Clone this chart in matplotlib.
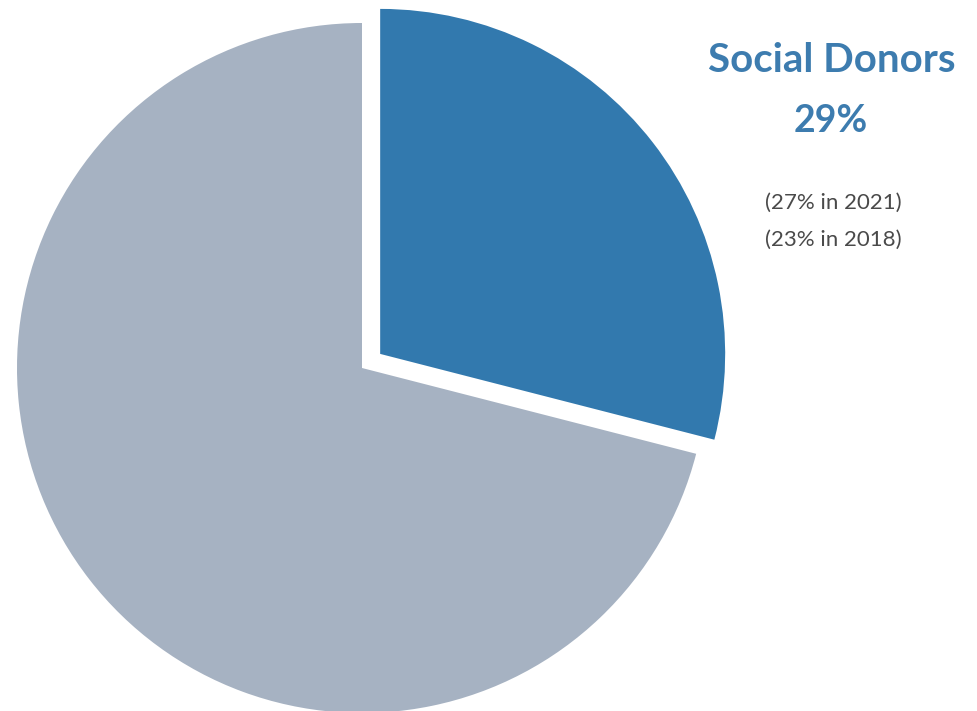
import matplotlib.pyplot as plt

# Share of donors (Social Donors vs. everyone else)
labels = ["Social Donors", "Other"]
shares = [29, 71]
previous = ["(27% in 2021)", "(23% in 2018)"]

blue = "#3279AE"
gray = "#A6B2C2"

fig = plt.figure(figsize=(9.77, 7.11), dpi=100)
ax = fig.add_axes([0, 0, 1, 1])

# explode is in data units here (axes are in pixels)
ax.pie(shares, colors=[blue, gray], startangle=90, counterclock=False,
       explode=[23, 0], center=(362, 343), radius=345, frame=True,
       wedgeprops=dict(linewidth=0))
ax.set_xlim(0, 977)
ax.set_ylim(0, 711)
ax.set_aspect("equal")
ax.axis("off")

ax.text(832, 651, labels[0], color="#3D7CAF", fontsize=29, fontweight="bold",
        family="Lato", ha="center", va="center")
ax.text(831, 590, f"{shares[0]}%", color="#3D7CAF", fontsize=27, fontweight="bold",
        family="Lato", ha="center", va="center")
ax.text(833, 508, previous[0], color="#4A4A4A", fontsize=16,
        family="Lato", ha="center", va="center")
ax.text(833, 471, previous[1], color="#4A4A4A", fontsize=16,
        family="Lato", ha="center", va="center")

fig.savefig("out.png", dpi=100)
